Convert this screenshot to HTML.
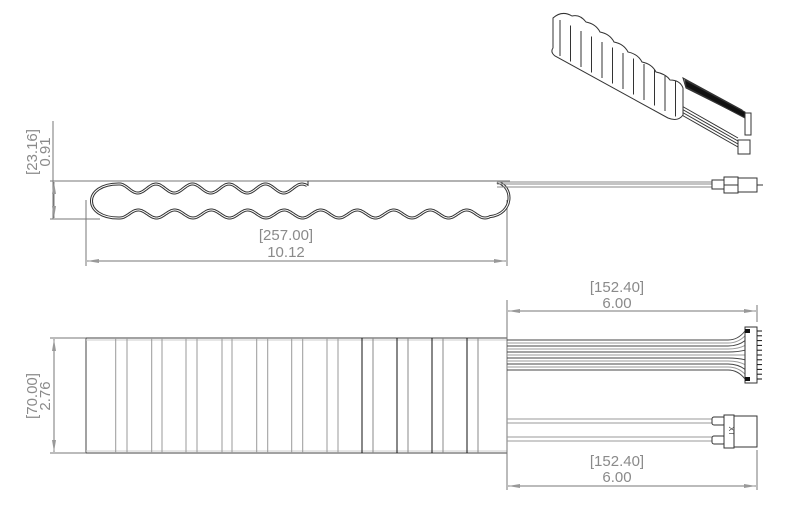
<!DOCTYPE html>
<html><head><style>
body{margin:0;background:#fff;}
svg{display:block;font-family:"Liberation Sans",sans-serif;}
.t{fill:#8a8a8a;font-size:15px;}
</style></head><body>
<svg id="s" width="790" height="510" viewBox="0 0 790 510">
<g stroke="#777" stroke-width="1" fill="none">
<line x1="50" y1="181" x2="308" y2="181"/>
<line x1="50" y1="219" x2="100" y2="219"/>
<line x1="53" y1="121" x2="53" y2="219"/>
<line x1="86" y1="200" x2="86" y2="266"/>
<line x1="507" y1="200" x2="507" y2="266"/>
<line x1="87" y1="261" x2="506" y2="261"/>
<line x1="54" y1="182" x2="54" y2="218"/>
<line x1="54" y1="339" x2="54" y2="452"/>
<line x1="508" y1="311" x2="756" y2="311"/>
<line x1="508" y1="486" x2="756" y2="486"/>
</g>
<g fill="#999">
<polygon points="54,182 52,194 56,194"/><polygon points="54,218 52,206 56,206"/>
<polygon points="87,261 99,259 99,263"/><polygon points="506,261 494,259 494,263"/>
<polygon points="54,339 52,351 56,351"/><polygon points="54,452 52,440 56,440"/>
<polygon points="508,311 520,309 520,313"/><polygon points="756,311 744,309 744,313"/>
<polygon points="508,486 520,484 520,488"/><polygon points="756,486 744,484 744,488"/>
</g>
<g transform="translate(37,152) rotate(-90)"><text class="t" x="0" y="0" text-anchor="middle">[23.16]</text><text class="t" x="0" y="13" text-anchor="middle">0.91</text></g>
<text class="t" x="286" y="240" text-anchor="middle">[257.00]</text>
<text class="t" x="286" y="257" text-anchor="middle">10.12</text>
<path id="prof" fill="none" stroke="#333" stroke-width="3"/>
<path id="prof2" fill="none" stroke="#fff" stroke-width="1"/>
<line x1="308" y1="181" x2="510" y2="181" stroke="#999" stroke-width="1.5"/>
<line x1="308" y1="181" x2="308" y2="186" stroke="#333"/>
<g stroke="#888" fill="none">
<line x1="497" y1="182" x2="715" y2="182"/>
<line x1="497" y1="184" x2="715" y2="184"/>
<line x1="497" y1="187" x2="715" y2="187"/>
<rect x="712" y="180" width="12" height="9" fill="#fff" stroke="#333"/>
<rect x="724" y="177" width="14" height="8" fill="#fff" stroke="#333"/>
<rect x="724" y="185" width="14" height="8" fill="#fff" stroke="#333"/>
<rect x="738" y="178" width="19" height="14" fill="#fff" stroke="#333"/>
<line x1="757" y1="185" x2="763" y2="185" stroke="#333"/>
</g>
<rect x="86" y="338" width="421" height="115" fill="#fff" stroke="#444" stroke-width="1"/>
<line x1="86" y1="340" x2="507" y2="340" stroke="#ccc"/>
<line x1="86" y1="451" x2="507" y2="451" stroke="#ccc"/>
<g id="cells" stroke-width="1"></g>
<g stroke="#777" fill="none">
<line x1="50" y1="338" x2="86" y2="338"/>
<line x1="50" y1="453" x2="86" y2="453"/>
<line x1="507" y1="300" x2="507" y2="490"/>
<line x1="757" y1="305" x2="757" y2="322"/>
<line x1="757" y1="450" x2="757" y2="490"/>
</g>
<g transform="translate(37,396) rotate(-90)"><text class="t" x="0" y="0" text-anchor="middle">[70.00]</text><text class="t" x="0" y="13" text-anchor="middle">2.76</text></g>
<text class="t" x="617" y="292" text-anchor="middle">[152.40]</text>
<text class="t" x="617" y="308" text-anchor="middle">6.00</text>
<text class="t" x="617" y="466" text-anchor="middle">[152.40]</text>
<text class="t" x="617" y="482" text-anchor="middle">6.00</text>
<g id="ribbon" fill="none"></g>
<rect x="745" y="327" width="12" height="56" fill="#fff" stroke="#333"/>
<rect x="745" y="329" width="5" height="4" fill="#111"/>
<rect x="745" y="377" width="5" height="4" fill="#111"/>
<g id="pins" stroke="#111"></g>
<g stroke="#999" stroke-width="1" fill="none">
<line x1="507" y1="419" x2="712" y2="419"/><line x1="507" y1="423" x2="712" y2="423"/>
<line x1="507" y1="437" x2="712" y2="437"/><line x1="507" y1="441" x2="712" y2="441"/>
</g>
<rect x="712" y="417" width="13" height="8" rx="2" fill="#fff" stroke="#333"/>
<rect x="712" y="436" width="13" height="8" rx="2" fill="#fff" stroke="#333"/>
<rect x="724" y="415" width="10" height="33" fill="#fff" stroke="#333"/>
<rect x="734" y="416" width="23" height="31" fill="#fff" stroke="#333"/>
<text x="729" y="431" font-size="7" transform="rotate(90 729 431)" text-anchor="middle" fill="#333">XT</text>
<g stroke="#333" stroke-width="1" fill="#fff">
<polygon points="683,78 742,110 746,118 686,88"/>
<polygon points="685,80 745,112 745,118 686,87" fill="#111"/>
<rect x="745" y="113" width="6" height="22" fill="#fff"/>
<line x1="680" y1="105" x2="738" y2="138"/><line x1="680" y1="108" x2="738" y2="141"/><line x1="680" y1="111" x2="738" y2="144"/><line x1="680" y1="114" x2="738" y2="147"/>
<rect x="738" y="140" width="12" height="14"/>
<path d="M553,18 Q562,10 572,16 Q580,14 586,22 Q596,24 600,32 Q610,34 614,42 Q624,44 628,52 Q638,54 642,62 Q652,64 656,72 Q666,74 670,80 Q680,80 683,88 L683,115 Q678,122 668,118 L555,56 Q550,52 553,48 Z"/>
<g id="iso"></g>
</g>
<script>
(function(){
var ns="http://www.w3.org/2000/svg";
var tw=[];for(var x=307;x>=120;x--){tw.push([x,188.5+4.5*Math.cos((x-302+18.25)*2*Math.PI/36.5)]);}
var s="M"+tw.map(function(p){return p[0]+","+p[1].toFixed(1);}).join(" L");
s+=" C82,183 82,219 120,218";
var b=[];for(var x=120;x<=490;x++){b.push([x,214+4*Math.cos((x-120)*2*Math.PI/36.5)]);}
s+=" L"+b.map(function(p){return p[0]+","+p[1].toFixed(1);}).join(" L");
s+=" C514,214 514,186 497,182";
document.getElementById("prof").setAttribute("d",s);
document.getElementById("prof2").setAttribute("d",s);
var xs=[[115.7,127],[151.7,162],[186,197],[222,232],[256.7,267.7],[291.7,302.7],[327,338],[362,373],[397,408],[432,443],[467,478]];
var g=document.getElementById("cells");
xs.forEach(function(p,i){p.forEach(function(x,j){var l=document.createElementNS(ns,"line");l.setAttribute("x1",x);l.setAttribute("x2",x);l.setAttribute("y1",338);l.setAttribute("y2",453);l.setAttribute("stroke",i>=7?(j==0?"#111":"#888"):"#999");g.appendChild(l);});});
var r=document.getElementById("ribbon");
for(var i=0;i<11;i++){var y=340+i*3;var ye=331+i*4.8;var pth=document.createElementNS(ns,"path");pth.setAttribute("d","M507,"+y+" L728,"+y+" Q738,"+y+" 745,"+ye);pth.setAttribute("stroke",i%2?"#999":"#444");r.appendChild(pth);}
var pn=document.getElementById("pins");
for(var i=0;i<11;i++){var y=331+i*4.8;var l=document.createElementNS(ns,"line");l.setAttribute("x1",757);l.setAttribute("x2",762);l.setAttribute("y1",y);l.setAttribute("y2",y);pn.appendChild(l);}
var iso=document.getElementById("iso");
for(var i=0;i<12;i++){var x=560+i*10.5,y=20+i*5.5;var l=document.createElementNS(ns,"line");l.setAttribute("x1",x);l.setAttribute("y1",y);l.setAttribute("x2",x);l.setAttribute("y2",y+36);iso.appendChild(l);}
})();
</script>
</svg>
</body></html>
